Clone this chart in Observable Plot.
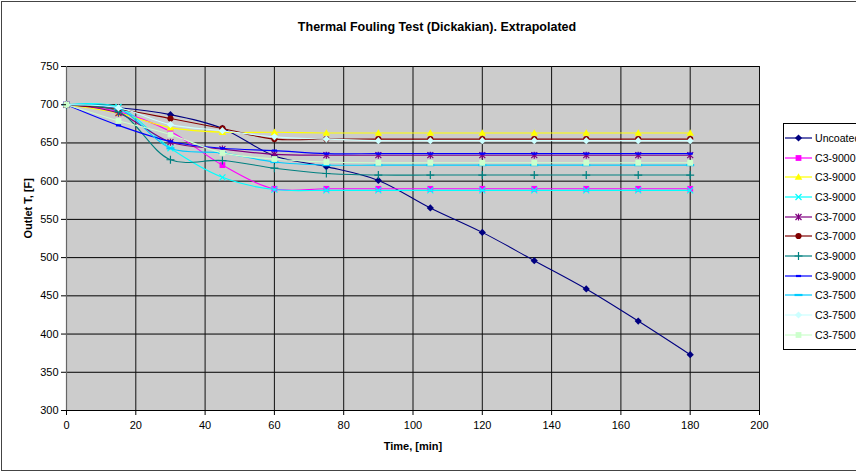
<!DOCTYPE html>
<html>
<head>
<meta charset="utf-8">
<script src="https://cdn.jsdelivr.net/npm/d3@7"></script>
<script src="https://cdn.jsdelivr.net/npm/@observablehq/plot@0.6"></script>
<style>
  html, body { margin: 0; padding: 0; background: #fff; }
  #wrap { position: relative; width: 856px; height: 472px; overflow: hidden; font-family: "Liberation Sans", Arial, sans-serif; }
  #border { position: absolute; left: 1px; top: 1px; width: 900px; height: 468px; border: 1px solid #444; pointer-events: none; }
  #legend { position: absolute; left: 783px; top: 123px; width: 100px; background: #fff; border: 1px solid #000; padding: 4px 0 4px 0; }
  .item { display: flex; align-items: center; height: 19.7px; font-size: 10.6px; color: #000; white-space: nowrap; }
  .item svg { margin-left: 1px; margin-right: 2px; flex: none; }
</style>
</head>
<body>
<div id="wrap"><div id="chart"></div><div id="border"></div><div id="legend"></div></div>
<script>
const times = [0, 15, 30, 45, 60, 75, 90, 105, 120, 135, 150, 165, 180];
const yTicks = [300, 350, 400, 450, 500, 550, 600, 650, 700, 750];
const xTicks = [0, 20, 40, 60, 80, 100, 120, 140, 160, 180, 200];

const seriesNames = ["Uncoated", "C3-9000", "C3-9000", "C3-9000", "C3-7000", "C3-7000", "C3-9000", "C3-9000", "C3-7500", "C3-7500", "C3-7500"];
const seriesColors = ["#000080", "#FF00FF", "#FFFF00", "#00FFFF", "#800080", "#800000", "#008080", "#0000FF", "#00CCFF", "#CCFFFF", "#CCFFCC"];
const seriesSymbols = ["diamond", "square", "triangle", "times", "asterisk", "circle", "plus", "dashS", "dashL", "diamond", "square"];

const uncoated   = [700, 696, 687, 669, 633, 619, 601, 565, 533, 496, 459, 417, 373];
const c9000a     = [700, 691, 665, 621, 590, 590, 590, 590, 590, 590, 590, 590, 590];
const c9000b     = [700, 689, 670, 664, 664, 663, 663, 663, 663, 663, 663, 663, 663];
const c9000c     = [700, 697, 643, 605, 589, 588, 588, 588, 588, 588, 588, 588, 588];
const c7000a     = [700, 689, 651, 642, 635, 634, 634, 634, 634, 634, 634, 634, 634];
const c7000b     = [700, 694, 682, 669, 655, 655, 655, 655, 655, 655, 655, 655, 655];
const c9000d     = [700, 691, 628, 627, 617, 610, 608, 608, 608, 608, 608, 608, 608];
const c9000e     = [700, 673, 652, 643, 640, 636, 636, 636, 636, 636, 636, 636, 636];
const c7500a     = [700, 695, 643, 637, 625, 621, 621, 621, 621, 621, 621, 621, 621];
const c7500b     = [700, 696, 674, 666, 658, 655, 653, 653, 653, 653, 653, 653, 653];
const c7500c     = [700, 679, 661, 637, 629, 625, 624, 624, 624, 624, 624, 624, 624];

const seriesValues = [uncoated, c9000a, c9000b, c9000c, c7000a, c7000b, c9000d, c9000e, c7500a, c7500b, c7500c];

function rectSym(w, h) {
  return { draw(ctx) { ctx.moveTo(-w, -h); ctx.lineTo(w, -h); ctx.lineTo(w, h); ctx.lineTo(-w, h); ctx.closePath(); } };
}
const dashS = rectSym(2.6, 1.1);
const dashL = rectSym(4, 1.1);
const diamondSym = { draw(ctx) { const a = 3.6; ctx.moveTo(0, -a); ctx.lineTo(a, 0); ctx.lineTo(0, a); ctx.lineTo(-a, 0); ctx.closePath(); } };
const squareSym = rectSym(2.9, 2.9);
const triangleSym = { draw(ctx) { const a = 3.8; ctx.moveTo(0, -a); ctx.lineTo(a, a * 0.75); ctx.lineTo(-a, a * 0.75); ctx.closePath(); } };
const timesSym = { draw(ctx) { const a = 3; ctx.moveTo(-a, -a); ctx.lineTo(a, a); ctx.moveTo(a, -a); ctx.lineTo(-a, a); } };
const asteriskSym = { draw(ctx) { const a = 3; ctx.moveTo(-a, -a); ctx.lineTo(a, a); ctx.moveTo(a, -a); ctx.lineTo(-a, a); ctx.moveTo(0, -a - 0.5); ctx.lineTo(0, a + 0.5); } };
const plusSym = { draw(ctx) { const a = 4; ctx.moveTo(-a, 0); ctx.lineTo(a, 0); ctx.moveTo(0, -a); ctx.lineTo(0, a); } };
const circleSym = { draw(ctx) { const r = 3.1; ctx.moveTo(r, 0); ctx.arc(0, 0, r, 0, 2 * Math.PI); } };

const symbolMap = { diamond: diamondSym, square: squareSym, triangle: triangleSym, times: timesSym, asterisk: asteriskSym, circle: circleSym, plus: plusSym, dashS, dashL };
const filledSet = new Set(["diamond", "square", "triangle", "circle", "dashS", "dashL"]);

const marks = [
  Plot.frame({ fill: "#CCCCCC", stroke: null }),
  Plot.gridY(yTicks, { stroke: "#000", strokeOpacity: 1, strokeWidth: 1 }),
  Plot.gridX(xTicks, { stroke: "#111", strokeOpacity: 1, strokeWidth: 1 }),
  Plot.ruleX([0], { stroke: "#666", strokeWidth: 1.2 }),
  Plot.ruleY([300], { stroke: "#000", strokeWidth: 1 })
];

seriesValues.forEach((vals, i) => {
  const data = times.map((t, j) => ({ t, v: vals[j] }));
  marks.push(Plot.line(data, { x: "t", y: "v", stroke: seriesColors[i], strokeWidth: 1.1, curve: "catmull-rom" }));
  const sym = seriesSymbols[i];
  const filled = filledSet.has(sym);
  marks.push(Plot.dot(data, {
    x: "t", y: "v",
    symbol: symbolMap[sym],
    r: 3,
    fill: filled ? seriesColors[i] : "none",
    stroke: filled ? "none" : seriesColors[i],
    strokeWidth: filled ? 0 : 1.2
  }));
});

marks.push(
  Plot.axisY(yTicks, { tickSize: 5, tickPadding: 3, fontSize: 11, label: null, stroke: "#000" }),
  Plot.axisX(xTicks, { tickSize: 5, tickPadding: 6, fontSize: 11, label: null, stroke: "#000" }),
  Plot.text(["Thermal Fouling Test (Dickakian). Extrapolated"], { frameAnchor: "top", dx: 24, dy: -44, fontSize: 12.5, fontWeight: "bold", fill: "#000" }),
  Plot.text(["Time, [min]"], { frameAnchor: "bottom", dy: 39, fontSize: 11, fontWeight: "bold", fill: "#000" }),
  Plot.text(["Outlet T, [F]"], { frameAnchor: "left", dx: -38, rotate: -90, fontSize: 11, fontWeight: "bold", fill: "#000" })
);

const chart = Plot.plot({
  width: 856,
  height: 472,
  marginLeft: 66,
  marginRight: 97,
  marginTop: 66,
  marginBottom: 62,
  x: { domain: [0, 200] },
  y: { domain: [300, 750] },
  style: { fontFamily: "'Liberation Sans', Arial, sans-serif", background: "transparent", color: "#000" },
  marks
});
document.getElementById("chart").appendChild(chart);

// Legend
const legend = document.getElementById("legend");
seriesNames.forEach((name, i) => {
  const item = document.createElement("div");
  item.className = "item";
  const ns = "http://www.w3.org/2000/svg";
  const svg = document.createElementNS(ns, "svg");
  svg.setAttribute("width", 28);
  svg.setAttribute("height", 12);
  const line = document.createElementNS(ns, "line");
  line.setAttribute("x1", 0); line.setAttribute("x2", 27);
  line.setAttribute("y1", 6); line.setAttribute("y2", 6);
  line.setAttribute("stroke", seriesColors[i]);
  line.setAttribute("stroke-width", 1.2);
  svg.appendChild(line);
  const sym = seriesSymbols[i];
  const filled = filledSet.has(sym);
  const p = document.createElementNS(ns, "path");
  p.setAttribute("d", d3.symbol(symbolMap[sym], 30)());
  p.setAttribute("transform", "translate(13.5,6)");
  p.setAttribute("fill", filled ? seriesColors[i] : "none");
  p.setAttribute("stroke", filled ? "none" : seriesColors[i]);
  p.setAttribute("stroke-width", 1.2);
  svg.appendChild(p);
  item.appendChild(svg);
  const span = document.createElement("span");
  span.textContent = name;
  item.appendChild(span);
  legend.appendChild(item);
});
</script>
</body>
</html>
